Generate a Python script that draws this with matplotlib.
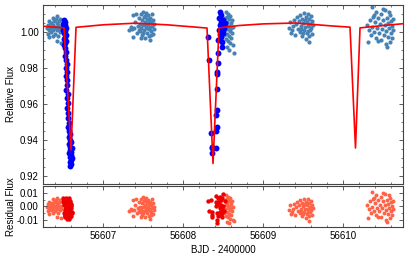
import matplotlib
matplotlib.use('Agg')
import matplotlib.pyplot as plt
from matplotlib.ticker import MultipleLocator, FormatStrFormatter

plt.rcParams['font.family'] = ['Liberation Sans', 'DejaVu Sans']
plt.rcParams['font.size'] = 7

# out-of-eclipse photometry (steelblue), residuals (tomato)
t_a = [56606.30, 56606.31, 56606.31, 56606.32, 56606.33, 56606.33, 56606.34, 56606.35,
       56606.35, 56606.36, 56606.37, 56606.37, 56606.38, 56606.38, 56606.39, 56606.40,
       56606.40, 56606.41, 56606.41, 56606.42, 56606.42, 56606.43, 56606.43, 56606.44,
       56606.44, 56606.45, 56606.45, 56606.46, 56606.46, 56606.47, 56606.47, 56606.48]
f_a = [1.002, 0.999, 1.004, 1.001, 1.006, 0.997, 1.003, 1.000,
       1.005, 1.002, 1.008, 0.998, 1.004, 1.001, 1.006, 1.003,
       0.999, 1.007, 1.002, 1.005, 0.995, 1.001, 1.009, 1.004,
       0.998, 1.006, 1.002, 1.000, 1.007, 1.003, 0.994, 1.001]
r_a = [-0.0005, -0.0035, 0.0015, -0.0015, 0.0035, -0.0055, 0.0005, -0.0025,
       0.0025, -0.0005, 0.0055, -0.0045, 0.0015, -0.0015, 0.0035, 0.0005,
       -0.0035, 0.0045, -0.0005, 0.0025, -0.0075, -0.0015, 0.0065, 0.0015,
       -0.0045, 0.0035, -0.0005, -0.0025, 0.0045, 0.0005, -0.0085, -0.0015]

t_b = [56607.325, 56607.350, 56607.363, 56607.375, 56607.375, 56607.388, 56607.400, 56607.413,
       56607.425, 56607.438, 56607.450, 56607.463, 56607.463, 56607.475, 56607.475, 56607.488,
       56607.488, 56607.500, 56607.500, 56607.513, 56607.513, 56607.525, 56607.525, 56607.538,
       56607.538, 56607.550, 56607.550, 56607.563, 56607.563, 56607.575, 56607.575, 56607.588,
       56607.588, 56607.600, 56607.600, 56607.613, 56607.613, 56607.625, 56607.625, 56607.638,
       56607.638, 56607.500, 56607.525, 56607.550, 56607.575, 56607.600, 56607.450, 56607.475,
       56607.588, 56607.538]
f_b = [1.0011, 1.0028, 1.0017, 1.0094, 0.9972, 1.0022, 1.0056, 1.0100,
       0.9994, 1.0033, 1.0078, 1.0044, 1.0006, 1.0100, 1.0022, 1.0067,
       0.9983, 1.0111, 1.0039, 1.0083, 1.0011, 1.0056, 0.9967, 1.0106,
       1.0028, 1.0072, 0.9994, 1.0094, 1.0044, 1.0017, 0.9978, 1.0078,
       0.9956, 1.0056, 1.0006, 1.0100, 1.0033, 1.0067, 0.9989, 1.0044,
       1.0017, 0.9994, 1.0089, 1.0022, 1.0061, 0.9983, 1.0011, 0.9967,
       1.0028, 1.0044]
r_b = [-0.0034, -0.0017, -0.0028, 0.0049, -0.0073, -0.0023, 0.0011, 0.0055,
       -0.0051, -0.0012, 0.0033, -0.0001, -0.0039, 0.0055, -0.0023, 0.0022,
       -0.0062, 0.0066, -0.0006, 0.0038, -0.0034, 0.0011, -0.0078, 0.0061,
       -0.0017, 0.0027, -0.0051, 0.0049, -0.0001, -0.0028, -0.0067, 0.0033,
       -0.0089, 0.0011, -0.0039, 0.0055, -0.0012, 0.0022, -0.0056, -0.0001,
       -0.0028, -0.0051, 0.0044, -0.0023, 0.0016, -0.0062, -0.0034, -0.0078,
       -0.0017, -0.0001]

t_c = [56608.538, 56608.563, 56608.588, 56608.525, 56608.575, 56608.613, 56608.550,
       56608.600, 56608.538, 56608.575, 56608.625, 56608.563, 56608.525, 56608.588,
       56608.613, 56608.550, 56608.575, 56608.600, 56608.538, 56608.563, 56608.588,
       56608.625, 56608.550, 56608.575, 56608.638, 56608.513, 56608.600, 56608.550]
f_c = [1.0111, 1.0100, 1.0089, 1.0078, 1.0072, 1.0067, 1.0056,
       1.0050, 1.0039, 1.0033, 1.0028, 1.0017, 1.0011, 1.0006,
       0.9994, 0.9989, 0.9978, 0.9967, 0.9961, 0.9950, 0.9939,
       0.9928, 0.9917, 0.9900, 0.9883, 0.9983, 1.0022, 1.0083]
r_c = [0.0081, 0.0070, 0.0059, 0.0048, 0.0042, 0.0037, 0.0026,
       0.0020, 0.0009, 0.0003, -0.0002, -0.0013, -0.0019, -0.0024,
       -0.0036, -0.0041, -0.0052, -0.0063, -0.0069, -0.0080, -0.0091,
       -0.0102, -0.0113, -0.0118, -0.0105, -0.0047, -0.0008, 0.0053]

t_d = [56609.325, 56609.338, 56609.350, 56609.363, 56609.375, 56609.388, 56609.400, 56609.413,
       56609.425, 56609.438, 56609.450, 56609.463, 56609.463, 56609.475, 56609.488, 56609.488,
       56609.500, 56609.513, 56609.513, 56609.525, 56609.538, 56609.538, 56609.550, 56609.550,
       56609.563, 56609.563, 56609.575, 56609.575, 56609.588, 56609.588, 56609.600, 56609.600,
       56609.613, 56609.613, 56609.625, 56609.525, 56609.500, 56609.563, 56609.475, 56609.575]
f_d = [1.0022, 1.0056, 0.9994, 1.0011, 1.0033, 1.0067, 0.9983, 1.0044,
       1.0083, 1.0017, 1.0061, 1.0000, 1.0094, 1.0033, 1.0072, 0.9978,
       1.0050, 1.0106, 1.0011, 1.0028, 1.0083, 0.9961, 1.0056, 0.9994,
       1.0100, 1.0033, 1.0072, 0.9978, 1.0044, 1.0011, 1.0089, 1.0022,
       1.0061, 0.9989, 1.0039, 1.0067, 0.9994, 1.0006, 1.0017, 0.9944]
r_d = [-0.0026, 0.0008, -0.0054, -0.0037, -0.0015, 0.0019, -0.0065, -0.0004,
       0.0035, -0.0031, 0.0013, -0.0048, 0.0046, -0.0015, 0.0024, -0.0070,
       0.0002, 0.0058, -0.0037, -0.0020, 0.0035, -0.0087, 0.0008, -0.0054,
       0.0052, -0.0015, 0.0024, -0.0070, -0.0004, -0.0037, 0.0041, -0.0026,
       0.0013, -0.0059, -0.0009, 0.0019, -0.0054, -0.0042, -0.0031, -0.0104]

t_e = [56610.300, 56610.313, 56610.325, 56610.338, 56610.350, 56610.363, 56610.363, 56610.375,
       56610.388, 56610.400, 56610.413, 56610.413, 56610.425, 56610.438, 56610.450, 56610.463,
       56610.475, 56610.475, 56610.488, 56610.500, 56610.513, 56610.525, 56610.525, 56610.538,
       56610.550, 56610.550, 56610.563, 56610.563, 56610.575, 56610.588, 56610.588, 56610.600,
       56610.600, 56610.613, 56610.613, 56610.625, 56610.625, 56610.438, 56610.500, 56610.538,
       56610.575, 56610.388]
f_e = [1.0039, 0.9944, 1.0011, 1.0067, 0.9983, 1.0139, 1.0028, 1.0083,
       1.0000, 1.0056, 1.0111, 0.9967, 1.0022, 1.0078, 0.9994, 1.0044,
       1.0100, 0.9956, 1.0017, 1.0067, 0.9983, 1.0039, 1.0122, 1.0006,
       0.9917, 1.0078, 0.9972, 1.0050, 1.0022, 0.9944, 1.0094, 0.9994,
       1.0061, 1.0033, 0.9967, 1.0011, 1.0072, 0.9950, 1.0128, 0.9933,
       1.0111, 1.0094]
r_e = [0.0009, -0.0086, -0.0019, 0.0037, -0.0047, 0.0109, -0.0002, 0.0053,
       -0.0030, 0.0026, 0.0081, -0.0063, -0.0008, 0.0048, -0.0036, 0.0014,
       0.0070, -0.0074, -0.0013, 0.0037, -0.0047, 0.0009, 0.0092, -0.0024,
       -0.0113, 0.0048, -0.0058, 0.0020, -0.0008, -0.0086, 0.0064, -0.0036,
       0.0031, 0.0003, -0.0063, -0.0019, 0.0042, -0.0080, 0.0098, -0.0097,
       0.0081, 0.0064]

# in-eclipse photometry (blue), residuals (red)
t_ecl1 = [56606.5125, 56606.5250, 56606.5000, 56606.5250, 56606.5125, 56606.5375, 56606.5000, 56606.5250,
          56606.5125, 56606.5375, 56606.5250, 56606.5125, 56606.5375, 56606.5250, 56606.5125,
          56606.5250, 56606.5375, 56606.5250, 56606.5375, 56606.5500, 56606.5375, 56606.5500, 56606.5375,
          56606.5500, 56606.5500, 56606.5375, 56606.5625, 56606.5500, 56606.5625, 56606.5500, 56606.5625,
          56606.5625, 56606.5750, 56606.5625,
          56606.5750, 56606.5875, 56606.5750, 56606.5875, 56606.6000, 56606.5750, 56606.5875, 56606.6125,
          56606.5875, 56606.6000, 56606.5750, 56606.6000, 56606.5875, 56606.6125, 56606.6000, 56606.5875,
          56606.6000, 56606.5875]
f_ecl1 = [1.0067, 1.0056, 1.0044, 1.0039, 1.0028, 1.0022, 1.0011, 1.0006,
          0.9994, 0.9983, 0.9972, 0.9961, 0.9950, 0.9939, 0.9928,
          0.9911, 0.9889, 0.9867, 0.9844, 0.9822, 0.9800, 0.9778, 0.9756,
          0.9733, 0.9706, 0.9678, 0.9656, 0.9633, 0.9606, 0.9578, 0.9550,
          0.9522, 0.9494, 0.9472,
          0.9450, 0.9433, 0.9417, 0.9400, 0.9389, 0.9378, 0.9361, 0.9356,
          0.9344, 0.9333, 0.9328, 0.9317, 0.9306, 0.9300, 0.9289, 0.9278,
          0.9267, 0.9256]
r_ecl1 = [0.004, -0.002, 0.006, -0.006, 0.001, -0.004, 0.003, -0.008,
          0.005, -0.001, 0.002, -0.005, 0.000, -0.007, 0.004,
          -0.003, 0.005, -0.006, 0.002, -0.009, 0.003, -0.002, 0.006,
          -0.004, 0.001, -0.007, 0.004, -0.001, 0.002, -0.005, 0.005,
          -0.003, 0.000, -0.008,
          0.003, -0.006, 0.006, -0.002, 0.001, -0.009, 0.004, -0.004,
          0.002, -0.007, 0.005, -0.001, 0.003, -0.005, 0.000, -0.008,
          0.002, -0.003]

t_ecl2 = [56608.4625, 56608.4750, 56608.4500, 56608.5000, 56608.4750, 56608.5250, 56608.4625, 56608.4875,
          56608.5125, 56608.4500, 56608.4875, 56608.5000, 56608.4625, 56608.4750, 56608.4375, 56608.4875,
          56608.4875,
          56608.3125, 56608.3250, 56608.4375, 56608.4375, 56608.4250, 56608.4250, 56608.4250, 56608.4250,
          56608.4125, 56608.4250, 56608.4125, 56608.3500, 56608.3625, 56608.3625, 56608.4125, 56608.3625]
f_ecl2 = [1.0111, 1.0094, 1.0078, 1.0067, 1.0056, 1.0050, 1.0039, 1.0028,
          1.0022, 1.0011, 1.0006, 0.9994, 0.9989, 0.9972, 0.9956, 0.9944,
          0.9917,
          0.9972, 0.9844, 0.9883, 0.9828, 0.9778, 0.9767, 0.9683, 0.9567,
          0.9539, 0.9472, 0.9450, 0.9439, 0.9361, 0.9356, 0.9356, 0.9328]
r_ecl2 = [0.007, 0.005, 0.003, 0.009, 0.001, 0.004, -0.001, 0.006,
          -0.003, 0.002, -0.002, 0.000, -0.004, -0.006, 0.003, -0.008,
          -0.005,
          0.004, -0.003, 0.006, -0.007, 0.002, -0.010, 0.001, -0.005,
          0.008, -0.012, 0.003, 0.005, -0.004, -0.008, 0.000, -0.006]

# best-fit model light curve
model_t = [56606.25, 56606.40, 56606.5125, 56606.60, 56606.6625, 56607.00, 56607.40, 56607.80,
           56608.30, 56608.375, 56608.45, 56608.70, 56609.00, 56609.40, 56609.85, 56610.0875,
           56610.156, 56610.2125, 56610.50, 56610.75]
model_f = [1.0032, 1.0027, 1.0023, 0.9345, 1.0026, 1.0040, 1.0049, 1.0040,
           1.0022, 0.9270, 1.0023, 1.0036, 1.0045, 1.0050, 1.0034, 1.0027,
           0.9356, 1.0023, 1.0036, 1.0046]

fig = plt.figure(figsize=(4.07, 2.59), dpi=100)
ax1 = fig.add_axes([0.1057, 0.2896, 0.8845, 0.6911])
ax2 = fig.add_axes([0.1057, 0.1236, 0.8845, 0.1583], sharex=ax1)

for t, f in [(t_a, f_a), (t_b, f_b), (t_c, f_c), (t_d, f_d), (t_e, f_e)]:
    ax1.scatter(t, f, s=9, color='#4682b4', lw=0, zorder=2)
for t, f in [(t_ecl1, f_ecl1), (t_ecl2, f_ecl2)]:
    ax1.scatter(t, f, s=18, color='#0000ff', lw=0, zorder=3)
ax1.plot(model_t, model_f, color='#ff0000', lw=1.2, zorder=4)

for t, r in [(t_a, r_a), (t_b, r_b), (t_c, r_c), (t_d, r_d), (t_e, r_e)]:
    ax2.scatter(t, r, s=8, color='#ff6347', lw=0)
for t, r in [(t_ecl1, r_ecl1), (t_ecl2, r_ecl2)]:
    ax2.scatter(t, r, s=10, color='#ee0000', lw=0)

ax1.set_xlim(56606.25, 56610.75)
ax1.set_ylim(0.9156, 1.015)
ax2.set_ylim(-0.015, 0.015)

ax1.yaxis.set_major_locator(MultipleLocator(0.02))
ax1.yaxis.set_minor_locator(MultipleLocator(0.005))
ax1.yaxis.set_major_formatter(FormatStrFormatter('%.2f'))
ax2.yaxis.set_major_locator(MultipleLocator(0.01))
ax2.yaxis.set_minor_locator(MultipleLocator(0.005))
ax2.yaxis.set_major_formatter(FormatStrFormatter('%.2f'))
ax2.xaxis.set_major_locator(MultipleLocator(1))
ax2.xaxis.set_minor_locator(MultipleLocator(0.2))
ax2.xaxis.set_major_formatter(FormatStrFormatter('%d'))

for ax in (ax1, ax2):
    ax.tick_params(which='both', direction='in', top=True, right=True,
                   color='#444444', labelsize=7, pad=3)
    ax.tick_params(which='major', length=3, width=0.6)
    ax.tick_params(which='minor', length=1.5, width=0.5)
    for sp in ax.spines.values():
        sp.set_color('#444444')
        sp.set_linewidth(0.8)
ax1.tick_params(labelbottom=False)

ax1.set_ylabel('Relative Flux', fontsize=7)
ax2.set_ylabel('Residual Flux', fontsize=7)
ax1.yaxis.set_label_coords(-0.075, 0.5)
ax2.yaxis.set_label_coords(-0.075, 0.5)
ax2.set_xlabel('BJD - 2400000', fontsize=7, labelpad=3)

fig.savefig('out.png', dpi=100)
